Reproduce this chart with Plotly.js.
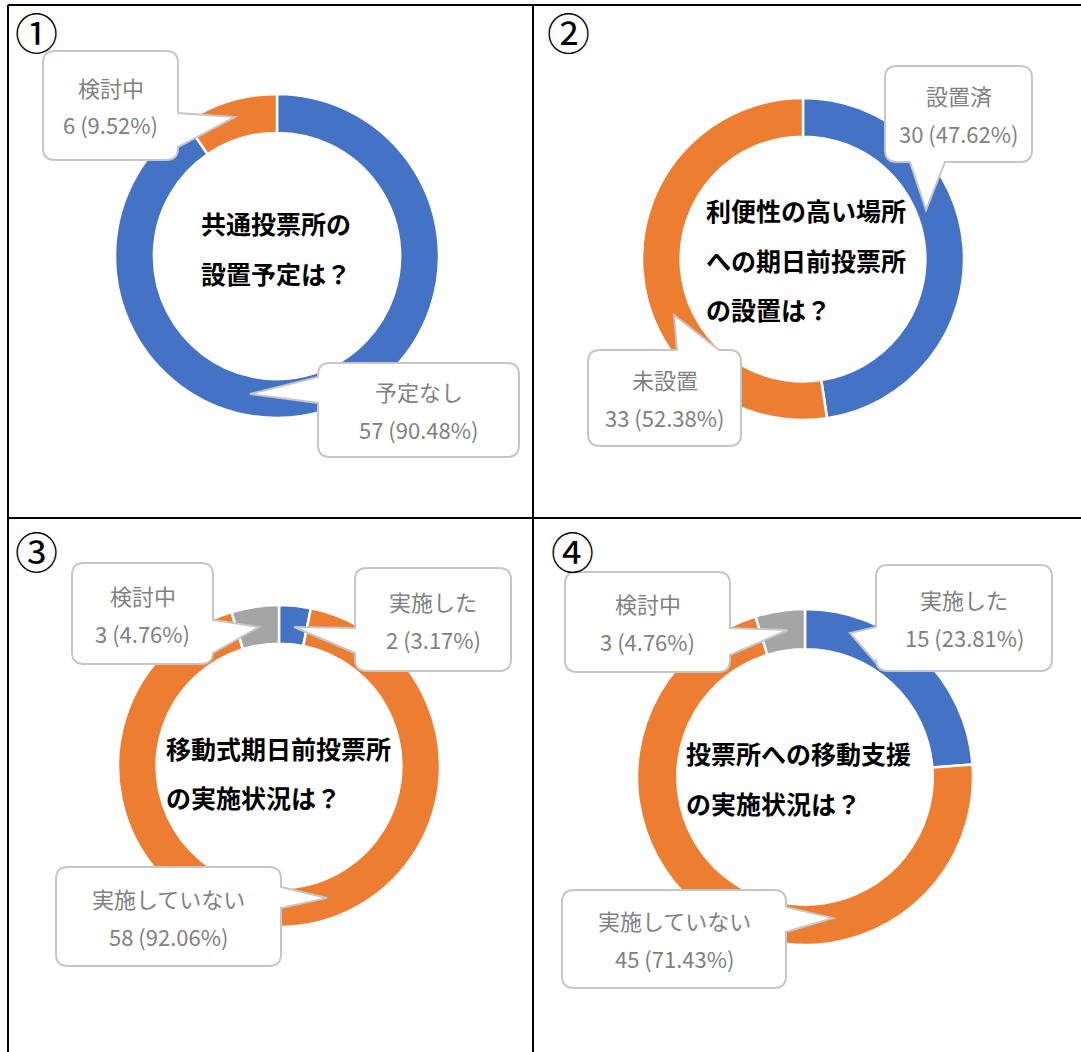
<!DOCTYPE html>
<html><head><meta charset="utf-8">
<script src="https://cdn.plot.ly/plotly-3.0.1.min.js"></script>
<style>html,body{margin:0;padding:0;background:#fff;}#chart{width:1081px;height:1052px;}</style>
</head><body><div id="chart"></div>
<script>
const W = 1081, H = 1052;

// ---- data ----
const chart1Labels = ['予定なし', '検討中'];
const chart1Values = [57, 6];
const chart1Title = ['共通投票所の', '設置予定は？'];

const chart2Labels = ['設置済', '未設置'];
const chart2Values = [30, 33];
const chart2Title = ['利便性の高い場所', 'への期日前投票所', 'の設置は？'];

const chart3Labels = ['実施した', '実施していない', '検討中'];
const chart3Values = [2, 58, 3];
const chart3Title = ['移動式期日前投票所', 'の実施状況は？'];

const chart4Labels = ['実施した', '実施していない', '検討中'];
const chart4Values = [15, 45, 3];
const chart4Title = ['投票所への移動支援', 'の実施状況は？'];

const panelMarks = ['①', '②', '③', '④'];

// ---- styles ----
const BLUE = '#4472C4', ORANGE = '#ED7D31', GRAY = '#A5A5A5';
const chart1Colors = [BLUE, ORANGE];
const chart2Colors = [BLUE, ORANGE];
const chart3Colors = [BLUE, ORANGE, GRAY];
const chart4Colors = [BLUE, ORANGE, GRAY];

const FONT = '"Noto Sans CJK JP", "Noto Sans", sans-serif';

// layout of each panel (pixel positions)
const panels = [
  { labels: chart1Labels, values: chart1Values, colors: chart1Colors, title: chart1Title,
    cx: 277, cy: 256, r: 162, titleX: 199, titleY: [223, 273],
    mark: [36, 31],
    callouts: [
      { box: [318, 363, 519, 457], side: 'left', base: [377, 403], tip: [250, 394] },
      { box: [43, 51, 178, 160], side: 'right', base: [113, 147], tip: [235, 117] }
    ] },
  { labels: chart2Labels, values: chart2Values, colors: chart2Colors, title: chart2Title,
    cx: 803, cy: 259, r: 161, titleX: 704, titleY: [210, 260, 309],
    mark: [568, 31],
    callouts: [
      { box: [885, 66, 1032, 162], side: 'bottom', base: [910, 945], tip: [926, 210] },
      { box: [588, 350, 741, 446], side: 'top', base: [677, 719], tip: [674, 315] }
    ] },
  { labels: chart3Labels, values: chart3Values, colors: chart3Colors, title: chart3Title,
    cx: 279, cy: 766, r: 161, titleX: 164, titleY: [748, 797],
    mark: [36, 550],
    callouts: [
      { box: [355, 568, 511, 671], side: 'left', base: [628, 653], tip: [294, 627] },
      { box: [56, 867, 281, 966], side: 'right', base: [887, 908], tip: [327, 898] },
      { box: [72, 563, 213, 664], side: 'right', base: [620, 653], tip: [259, 627] }
    ] },
  { labels: chart4Labels, values: chart4Values, colors: chart4Colors, title: chart4Title,
    cx: 805, cy: 777, r: 168, titleX: 684, titleY: [753, 803],
    mark: [572, 550],
    callouts: [
      { box: [876, 565, 1052, 671], side: 'left', base: [627, 663], tip: [850, 633] },
      { box: [562, 890, 786, 988], side: 'right', base: [907, 932], tip: [833, 918] },
      { box: [565, 572, 730, 672], side: 'right', base: [628, 655], tip: [788, 630] }
    ] }
];

const px = x => x / W;
const py = y => 1 - y / H;
const P = (x, y) => px(x).toFixed(5) + ',' + py(y).toFixed(5);

function calloutPath(c) {
  const [x0, y0, x1, y1] = c.box, r = 12, [a, b] = c.base, [tx, ty] = c.tip;
  let d = 'M' + P(x0 + r, y0);
  if (c.side === 'top') d += ' L' + P(a, y0) + ' L' + P(tx, ty) + ' L' + P(b, y0);
  d += ' L' + P(x1 - r, y0) + ' Q' + P(x1, y0) + ' ' + P(x1, y0 + r);
  if (c.side === 'right') d += ' L' + P(x1, a) + ' L' + P(tx, ty) + ' L' + P(x1, b);
  d += ' L' + P(x1, y1 - r) + ' Q' + P(x1, y1) + ' ' + P(x1 - r, y1);
  if (c.side === 'bottom') d += ' L' + P(b, y1) + ' L' + P(tx, ty) + ' L' + P(a, y1);
  d += ' L' + P(x0 + r, y1) + ' Q' + P(x0, y1) + ' ' + P(x0, y1 - r);
  if (c.side === 'left') d += ' L' + P(x0, b) + ' L' + P(tx, ty) + ' L' + P(x0, a);
  d += ' L' + P(x0, y0 + r) + ' Q' + P(x0, y0) + ' ' + P(x0 + r, y0) + ' Z';
  return d;
}

const traces = [], shapes = [], annotations = [];

// frame lines
const frameLines = [
  [8, 5, 1081, 5], [8, 5, 8, 1052], [533, 5, 533, 1052], [8, 518, 1081, 518]
];
frameLines.forEach(l => shapes.push({ type: 'line', xref: 'paper', yref: 'paper',
  x0: px(l[0]), y0: py(l[1]), x1: px(l[2]), y1: py(l[3]), line: { color: '#000', width: 2 }, layer: 'above' }));

panels.forEach((p, i) => {
  traces.push({
    type: 'pie', labels: p.labels, values: p.values, hole: 0.76, sort: false,
    direction: 'clockwise', rotation: 0, textinfo: 'none', hoverinfo: 'label+value',
    marker: { colors: p.colors, line: { color: '#fff', width: 2.5 } },
    domain: { x: [px(p.cx - p.r), px(p.cx + p.r)], y: [py(p.cy + p.r), py(p.cy - p.r)] },
    showlegend: false
  });
  const total = p.values.reduce((s, v) => s + v, 0);
  p.callouts.forEach((c, k) => {
    shapes.push({ type: 'path', xref: 'paper', yref: 'paper', path: calloutPath(c),
      fillcolor: '#fff', line: { color: '#C6C6C6', width: 2 }, layer: 'above' });
    const mx = (c.box[0] + c.box[2]) / 2, my = (c.box[1] + c.box[3]) / 2;
    const pct = (p.values[k] / total * 100).toFixed(2);
    [[p.labels[k], my - 19], [p.values[k] + ' (' + pct + '%)', my + 19]].forEach(t => {
      annotations.push({ xref: 'paper', yref: 'paper', x: px(mx), y: py(t[1]),
        xanchor: 'center', yanchor: 'middle', showarrow: false, text: t[0],
        font: { family: FONT, size: 22, color: '#808080' } });
    });
  });
  p.title.forEach((line, k) => annotations.push({ xref: 'paper', yref: 'paper',
    x: px(p.titleX), y: py(p.titleY[k]), xanchor: 'left', yanchor: 'middle', showarrow: false,
    text: line, font: { family: FONT, size: 25, color: '#000', weight: 700 } }));
  annotations.push({ xref: 'paper', yref: 'paper', x: px(p.mark[0]), y: py(p.mark[1]),
    xanchor: 'center', yanchor: 'middle', showarrow: false, borderpad: 0, text: panelMarks[i],
    font: { family: FONT, size: 43, color: '#000' } });
});

Plotly.newPlot('chart', traces, {
  width: W, height: H, margin: { l: 0, r: 0, t: 0, b: 0 },
  paper_bgcolor: '#fff', plot_bgcolor: '#fff', showlegend: false,
  shapes: shapes, annotations: annotations
}, { displayModeBar: false, staticPlot: true });
</script></body></html>
